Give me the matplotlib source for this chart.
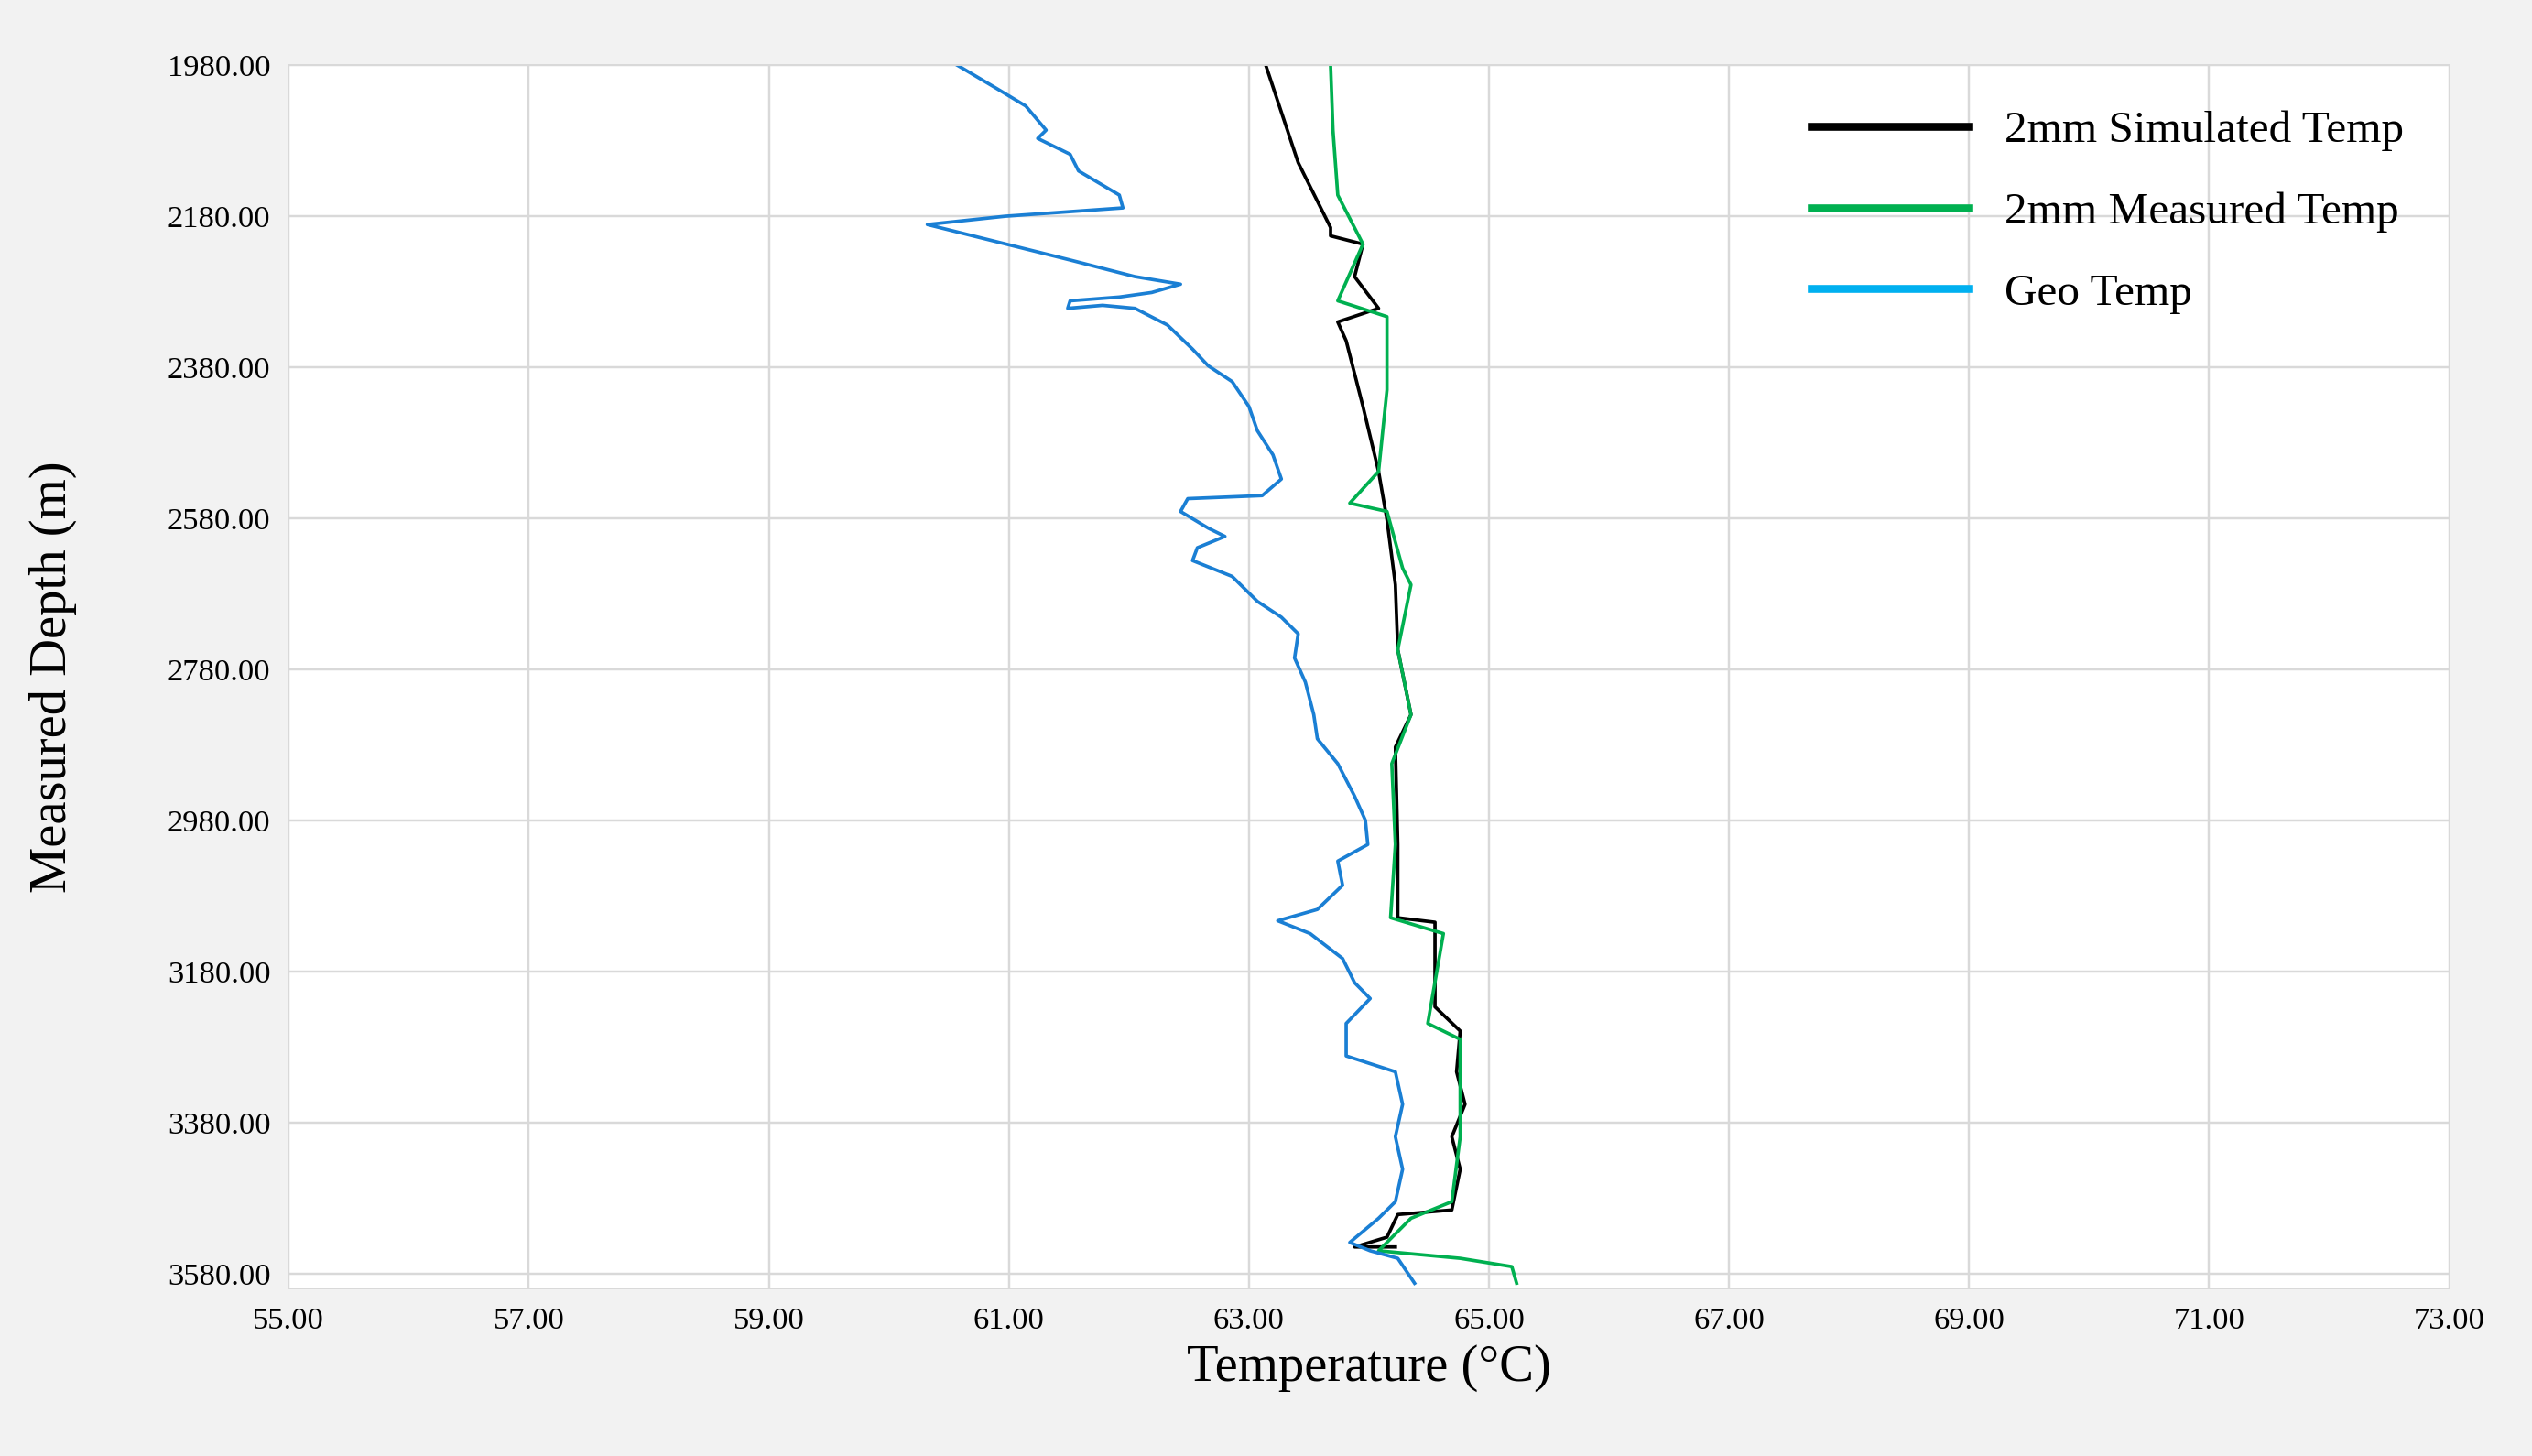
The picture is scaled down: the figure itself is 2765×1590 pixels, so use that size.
import matplotlib.pyplot as plt
import numpy as np

plt.rcParams['font.family'] = ['Liberation Serif', 'DejaVu Serif']

# Geo Temp
geo_t = [60.57, 60.91, 61.14, 61.31, 61.24, 61.51, 61.58, 61.92, 61.95, 60.97, 60.32, 60.70,
         61.51, 62.05, 62.43, 62.19, 61.92, 61.51, 61.49, 61.78, 62.05, 62.32, 62.53, 62.66,
         62.86, 63.00, 63.07, 63.20, 63.27, 63.11, 62.49, 62.43, 62.66, 62.80, 62.57, 62.53,
         62.86, 63.07, 63.27, 63.41, 63.38, 63.47, 63.54, 63.57, 63.74, 63.88, 63.97, 63.99,
         63.74, 63.78, 63.57, 63.24, 63.51, 63.78, 63.88, 64.01, 63.81, 63.81, 64.22, 64.28,
         64.22, 64.28, 64.22, 64.08, 63.84, 64.01, 64.24, 64.38]
geo_d = [1980, 2012, 2034, 2066, 2077, 2098, 2120, 2152, 2169, 2180, 2191, 2206,
         2238, 2260, 2270, 2281, 2287, 2292, 2302, 2298, 2302, 2324, 2356, 2378,
         2399, 2432, 2464, 2496, 2528, 2550, 2554, 2571, 2593, 2604, 2619, 2636,
         2657, 2690, 2711, 2733, 2765, 2797, 2840, 2872, 2905, 2948, 2980, 3012,
         3034, 3066, 3098, 3113, 3130, 3163, 3195, 3216, 3249, 3292, 3313, 3356,
         3399, 3442, 3485, 3507, 3539, 3550, 3560, 3593]

# 2mm Simulated Temp
sim_t = [63.14, 63.41, 63.68, 63.68, 63.95, 63.88, 64.08, 63.74, 63.81, 63.95, 64.08, 64.15,
         64.22, 64.24, 64.35, 64.22, 64.24, 64.24, 64.55, 64.55, 64.76, 64.73, 64.80, 64.69,
         64.76, 64.69, 64.24, 64.15, 63.88, 64.22]
sim_d = [1980, 2109, 2195, 2206, 2217, 2260, 2302, 2320, 2345, 2432, 2518, 2582,
         2668, 2754, 2840, 2883, 3012, 3109, 3115, 3227, 3259, 3313, 3356, 3399,
         3442, 3496, 3502, 3532, 3545, 3545]

# 2mm Measured Temp
mea_t = [63.68, 63.70, 63.74, 63.95, 63.74, 64.15, 64.15, 64.08, 63.84, 64.15, 64.28, 64.35,
         64.24, 64.35, 64.19, 64.22, 64.18, 64.62, 64.49, 64.76, 64.76, 64.69, 64.35, 64.08,
         64.76, 65.19, 65.23]
mea_d = [1980, 2066, 2152, 2217, 2292, 2313, 2410, 2518, 2560, 2571, 2646, 2668,
         2754, 2840, 2905, 3012, 3109, 3130, 3249, 3270, 3399, 3485, 3507, 3550,
         3560, 3571, 3593]

x_ticks = np.arange(55, 74, 2)
y_ticks = np.arange(1980, 3600, 200)

fig = plt.figure(figsize=(15.6, 8.97), dpi=177.3, facecolor='#f2f2f2')
ax = fig.add_axes([0.114, 0.115, 0.853, 0.84])
ax.set_facecolor('white')

ax.plot(sim_t, sim_d, color='black', lw=1.5, label='2mm Simulated Temp')
ax.plot(mea_t, mea_d, color='#00b050', lw=1.5, label='2mm Measured Temp')
ax.plot(geo_t, geo_d, color='#1a7fd4', lw=1.5, label='Geo Temp')

ax.set_xlim(55, 73)
ax.set_ylim(3600, 1980)
ax.set_xticks(x_ticks)
ax.set_xticklabels([f'{v:.2f}' for v in x_ticks], fontsize=14)
ax.set_yticks(y_ticks)
ax.set_yticklabels([f'{v:.2f}' for v in y_ticks], fontsize=14)
ax.grid(color='#d9d9d9', lw=1)
ax.tick_params(length=0, pad=8)
for s in ax.spines.values():
    s.set_color('#d9d9d9')

ax.set_xlabel('Temperature (°C)', fontsize=23)
ax.set_ylabel('Measured Depth (m)', fontsize=23, labelpad=40)

handles, labels = ax.get_legend_handles_labels()
leg = ax.legend(handles, labels, loc='upper right', frameon=False, fontsize=20,
                handlelength=3.5, labelspacing=0.9, borderaxespad=0.6)
leg.legend_handles[2].set_color('#00b0f0')
for h in leg.legend_handles:
    h.set_linewidth(3.5)

fig.savefig('out.png', facecolor=fig.get_facecolor())
